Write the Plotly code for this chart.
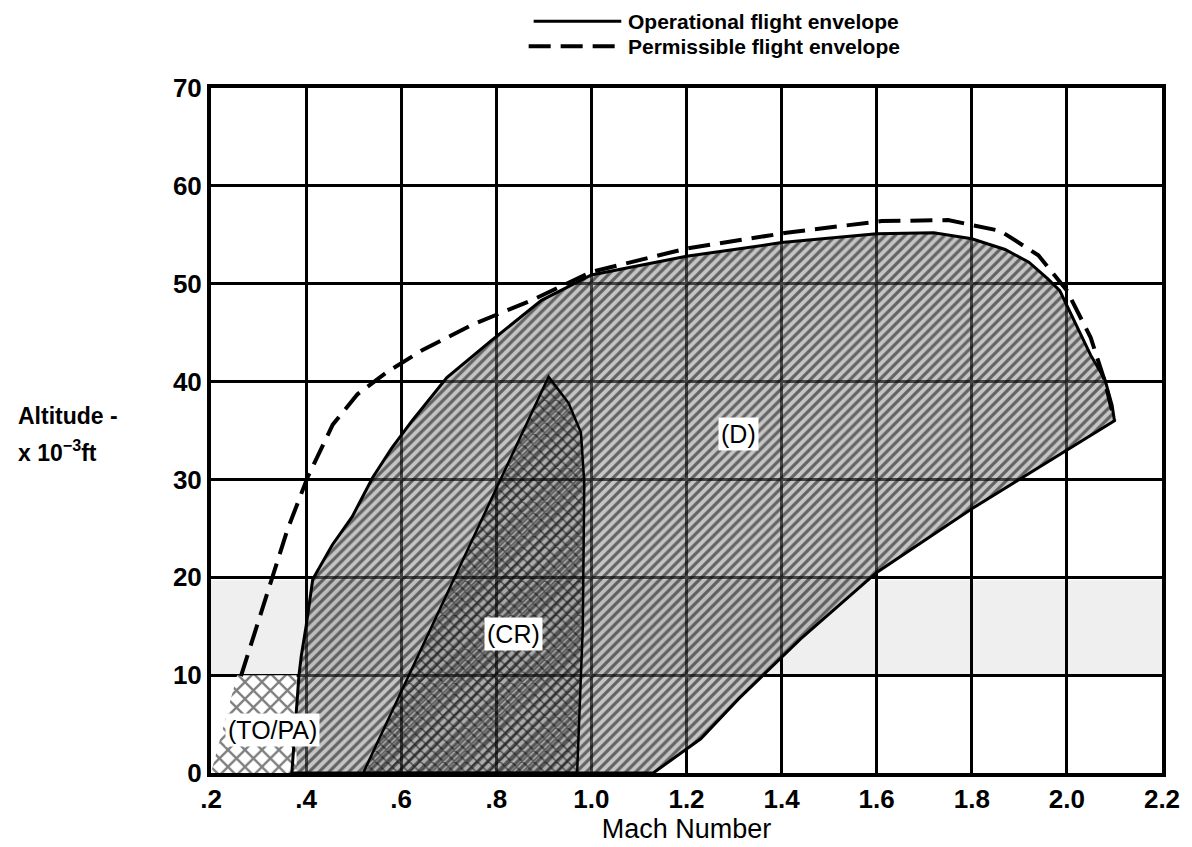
import plotly.graph_objects as go

# ---------------- data ----------------
# Operational flight envelope (solid) - region (D)
op_mach = [0.37, 0.385, 0.39, 0.40, 0.414, 0.455, 0.497, 0.54, 0.58, 0.623, 0.696, 0.79, 0.895, 1.0,
           1.2, 1.4, 1.6, 1.72, 1.8, 1.87, 1.92, 1.96, 1.985, 2.015, 2.05, 2.08, 2.095, 2.1,
           2.0, 1.8, 1.6, 1.44, 1.31, 1.23, 1.13, 0.37]
op_alt = [0, 10, 12, 15, 19.8, 23.3, 26.2, 30.2, 33.2, 36.0, 40.4, 44.2, 48.3, 50.9,
          52.8, 54.2, 55.1, 55.2, 54.6, 53.5, 52.2, 50.5, 49.3, 46.3, 42.7, 40.2, 37.6, 36.0,
          33.0, 27.0, 20.5, 13.7, 7.6, 3.5, 0, 0]

# Permissible flight envelope (dashed)
perm_mach = [0.263, 0.29, 0.313, 0.361, 0.403, 0.456, 0.508, 0.571, 0.644, 0.749, 0.874, 1.0,
             1.2, 1.41, 1.61, 1.75, 1.86, 1.94, 2.0, 2.05, 2.08, 2.1]
perm_alt = [9.9, 14.0, 17.5, 24.9, 30.2, 35.6, 38.7, 41.0, 43.2, 45.8, 48.3, 51.2,
            53.6, 55.2, 56.4, 56.5, 55.4, 52.9, 49.3, 44.5, 40.0, 36.0]

# Cruise region (CR)
cr_mach = [0.52, 0.91, 0.952, 0.978, 0.985, 0.982, 0.97, 0.52]
cr_alt = [0, 40.5, 37.8, 34.8, 29.7, 15.0, 0, 0]

# Take-off / powered approach region (TO/PA)
to_mach = [0.2, 0.255, 0.38, 0.38, 0.2]
to_alt = [0, 10, 10, 0, 0]

# region labels
label_text = ["(D)", "(CR)", "(TO/PA)"]
label_mach = [1.31, 0.837, 0.33]
label_alt = [34.6, 14.2, 4.4]

# axis ticks
x_ticks = [0.2, 0.4, 0.6, 0.8, 1.0, 1.2, 1.4, 1.6, 1.8, 2.0, 2.2]
x_ticktext = [".2", ".4", ".6", ".8", "1.0", "1.2", "1.4", "1.6", "1.8", "2.0", "2.2"]
y_ticks = [0, 10, 20, 30, 40, 50, 60, 70]

legend_names = ["Operational flight envelope", "Permissible flight envelope"]

SANS = "Liberation Sans, Arial, sans-serif"

fig = go.Figure()

# region D fill
fig.add_trace(go.Scatter(
    x=op_mach, y=op_alt, mode="lines", fill="toself",
    line=dict(width=0, color="black"),
    fillpattern=dict(shape="/", fgcolor="black", bgcolor="rgba(140,140,140,0.5)",
                     size=7, solidity=0.45),
    showlegend=False, hoverinfo="skip"))

# region CR fill (cross-hatch)
fig.add_trace(go.Scatter(
    x=cr_mach, y=cr_alt, mode="lines", fill="toself",
    line=dict(width=2.5, color="black"),
    fillpattern=dict(shape="x", fgcolor="black", bgcolor="rgba(0,0,0,0.12)",
                     size=8, solidity=0.35),
    showlegend=False, hoverinfo="skip"))

# region TO/PA fill
fig.add_trace(go.Scatter(
    x=to_mach, y=to_alt, mode="lines", fill="toself",
    line=dict(width=0, color="black"),
    fillpattern=dict(shape="x", fgcolor="black", bgcolor="white",
                     size=12, solidity=0.35),
    showlegend=False, hoverinfo="skip"))

# operational envelope outline
fig.add_trace(go.Scatter(
    x=op_mach, y=op_alt, mode="lines", name=legend_names[0],
    line=dict(width=3, color="black"), showlegend=False, hoverinfo="skip"))

# permissible envelope (dashed)
fig.add_trace(go.Scatter(
    x=perm_mach, y=perm_alt, mode="lines", name=legend_names[1],
    line=dict(width=4, color="black", dash="22px,10px"), showlegend=False, hoverinfo="skip"))

# region labels
for t, mx, ay in zip(label_text, label_mach, label_alt):
    fig.add_annotation(x=mx, y=ay, text=t, showarrow=False,
                       font=dict(family=SANS, size=25, color="black"),
                       bgcolor="white", borderpad=2)

# faint scanned band (10-20k)
fig.add_shape(type="rect", xref="paper", yref="y", x0=0, x1=1, y0=10, y1=19.7,
              fillcolor="#efefef", line=dict(width=0), layer="below")

# helpers: screen pixel -> paper coordinates (plot area spans 208..1163 x 87..775)
def px_x(p):
    return (p - 208) / 955.0

def px_y(p):
    return (775 - p) / 688.0

# manual legend at top
leg_y = [20, 45]
fig.add_shape(type="line", xref="paper", yref="paper", x0=px_x(532), x1=px_x(620),
              y0=px_y(leg_y[0]), y1=px_y(leg_y[0]), line=dict(color="black", width=3))
fig.add_shape(type="line", xref="paper", yref="paper", x0=px_x(527), x1=px_x(620),
              y0=px_y(leg_y[1]), y1=px_y(leg_y[1]), line=dict(color="black", width=4, dash="22px,10px"))
for i, yy in enumerate(leg_y):
    fig.add_annotation(xref="paper", yref="paper", x=px_x(625), y=px_y(yy), xanchor="left",
                       yanchor="middle", text=legend_names[i], showarrow=False,
                       font=dict(family=SANS, size=21, color="black", weight="bold"))

# y-axis title
fig.add_annotation(xref="paper", yref="paper", x=px_x(12), y=px_y(416), xanchor="left",
                   yanchor="middle", text="Altitude -", showarrow=False,
                   font=dict(family=SANS, size=23, color="black", weight="bold"))
fig.add_annotation(xref="paper", yref="paper", x=px_x(12), y=px_y(452), xanchor="left",
                   yanchor="middle", text="x 10<sup>−3</sup>ft", showarrow=False,
                   font=dict(family=SANS, size=23, color="black", weight="bold"))

# page body has a small margin: figure is 1184x839 so it fills the 1192x847 window
fig.update_layout(
    width=1184, height=839,
    margin=dict(l=203, r=26, t=80, b=70),
    paper_bgcolor="white", plot_bgcolor="white",
    showlegend=False,
    xaxis=dict(range=[0.2, 2.2], tickvals=x_ticks, ticktext=x_ticktext,
               showgrid=True, gridcolor="black", gridwidth=2.5,
               showline=True, linecolor="black", linewidth=4, mirror=True,
               zeroline=False, ticks="",
               tickfont=dict(family=SANS, size=26, color="black", weight="bold"),
               title=dict(text="Mach Number", standoff=2,
                          font=dict(family=SANS, size=27, color="black"))),
    yaxis=dict(range=[0, 70], tickvals=y_ticks,
               showgrid=True, gridcolor="black", gridwidth=2.5,
               showline=True, linecolor="black", linewidth=4, mirror=True,
               zeroline=False, ticks="",
               tickfont=dict(family=SANS, size=26, color="black", weight="bold")),
)

fig.write_html("out.html")
